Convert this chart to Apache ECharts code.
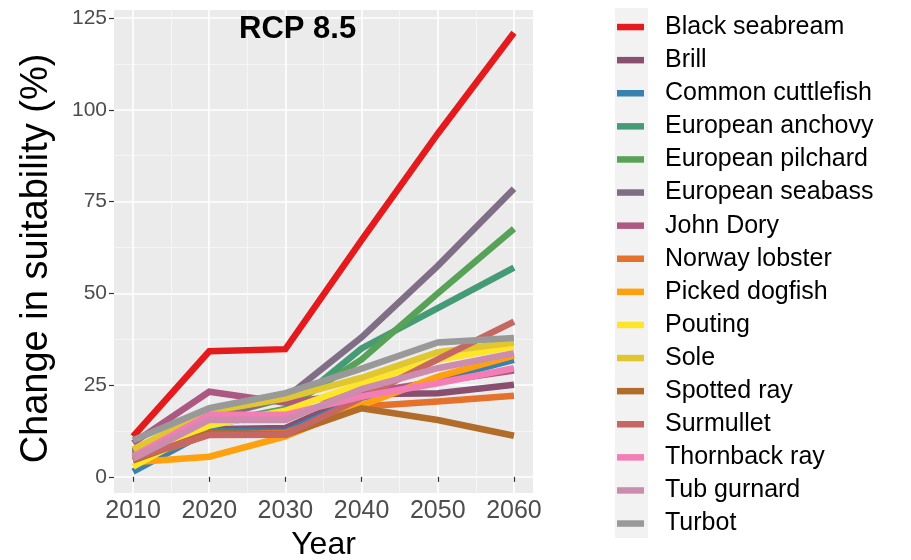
<!DOCTYPE html>
<html>
<head>
<meta charset="utf-8">
<script src="https://cdn.jsdelivr.net/npm/echarts@6/dist/echarts.min.js"></script>
<style>
  html, body { margin: 0; padding: 0; background: #ffffff; }
  #chart { width: 911px; height: 560px; }
</style>
</head>
<body>
<div id="chart"></div>
<script>
// Projected change in habitat suitability per species, RCP 8.5 scenario
const years = [2010, 2020, 2030, 2040, 2050, 2060];
const yTicks = [0, 25, 50, 75, 100, 125];
const yMinorTicks = [12.5, 37.5, 62.5, 87.5, 112.5];
const xMinorTicks = [2015, 2025, 2035, 2045, 2055];

const species = [
  'Black seabream', 'Brill', 'Common cuttlefish', 'European anchovy',
  'European pilchard', 'European seabass', 'John Dory', 'Norway lobster',
  'Picked dogfish', 'Pouting', 'Sole', 'Spotted ray', 'Surmullet',
  'Thornback ray', 'Tub gurnard', 'Turbot'
];

const blackSeabream    = [11.0, 34.2, 34.8, 64.5, 93.5, 121.0];
const brill            = [6.5, 13.0, 13.3, 22.5, 22.8, 25.1];
const commonCuttlefish = [1.4, 12.5, 12.3, 21.5, 26.5, 31.9];
const europeanAnchovy  = [7.0, 14.0, 18.0, 35.0, 46.0, 57.0];
const europeanPilchard = [6.0, 14.5, 18.5, 32.0, 50.0, 67.6];
const europeanSeabass  = [7.0, 16.0, 21.5, 38.0, 57.5, 78.5];
const johnDory         = [9.2, 23.2, 20.2, 22.8, 26.0, 29.0];
const norwayLobster    = [4.5, 11.5, 12.0, 19.2, 20.5, 22.1];
const pickedDogfish    = [4.0, 5.5, 11.0, 19.5, 27.3, 33.0];
const pouting          = [2.8, 14.0, 18.0, 25.5, 31.9, 35.5];
const sole             = [7.5, 17.8, 21.4, 27.0, 34.0, 36.6];
const spottedRay       = [4.5, 12.0, 11.5, 18.7, 15.5, 11.2];
const surmullet        = [5.0, 11.4, 11.5, 21.5, 32.0, 42.3];
const thornbackRay     = [5.5, 16.9, 16.9, 21.9, 25.5, 29.6];
const tubGurnard       = [5.0, 15.5, 15.5, 23.9, 29.6, 33.7];
const turbot           = [10.0, 18.7, 22.8, 29.5, 36.6, 37.8];

const values = [
  blackSeabream, brill, commonCuttlefish, europeanAnchovy, europeanPilchard,
  europeanSeabass, johnDory, norwayLobster, pickedDogfish, pouting, sole,
  spottedRay, surmullet, thornbackRay, tubGurnard, turbot
];

const palette = [
  '#E41A1C', '#884F6F', '#3881B1', '#449B76', '#57A256', '#7F6E85',
  '#AD5882', '#E4722C', '#FFA10E', '#FFE529', '#E1C72F', '#B26C29',
  '#C66764', '#F27EB5', '#CB8CAD', '#999999'
];

const font = '"Liberation Sans", Arial, sans-serif';
const chart = echarts.init(document.getElementById('chart'), null, { renderer: 'canvas' });

const series = species.map((name, i) => ({
  name: name,
  type: 'line',
  xAxisIndex: 0,
  yAxisIndex: 0,
  data: years.map((y, j) => [y, values[i][j]]),
  showSymbol: false,
  symbol: 'none',
  lineStyle: { width: 6.5, color: palette[i], cap: 'butt', join: 'miter' },
  itemStyle: { color: palette[i] },
  emphasis: { disabled: true },
  silent: true,
  animation: false
}));

const gridRect = { left: 114, right: 378, top: 10, bottom: 67 };
const xRange = { min: 2007.5, max: 2062.5 };
const yRange = { min: -4.4, max: 127.2 };

chart.setOption({
  backgroundColor: '#ffffff',
  animation: false,
  title: {
    text: 'RCP 8.5',
    left: 234,
    top: 9,
    textStyle: { fontFamily: font, fontSize: 31, fontWeight: 'bold', color: '#000000' }
  },
  grid: [Object.assign({
    show: true, backgroundColor: '#EBEBEB', borderWidth: 0,
    containLabel: false, outerBoundsMode: 'none'
  }, gridRect)],
  xAxis: [
    {
      type: 'value', gridIndex: 0, min: xRange.min, max: xRange.max,
      name: 'Year', nameLocation: 'middle', nameGap: 28,
      nameTextStyle: { fontFamily: font, fontSize: 32, color: '#000000' },
      axisLine: { show: false },
      axisTick: { show: true, customValues: years, length: 5, lineStyle: { color: '#333333', width: 1.2 } },
      axisLabel: {
        customValues: years, fontFamily: font, fontSize: 25, color: '#4D4D4D', margin: 6,
        formatter: v => String(v)
      },
      splitLine: { show: true, lineStyle: { color: '#FFFFFF', width: 1.6 } }
    },
    {
      type: 'value', gridIndex: 0, min: xRange.min, max: xRange.max, position: 'top',
      axisLine: { show: false },
      axisTick: { show: false, customValues: xMinorTicks },
      axisLabel: { show: false, customValues: xMinorTicks },
      splitLine: { show: true, lineStyle: { color: '#F7F7F7', width: 0.8 } }
    }
  ],
  yAxis: [
    {
      type: 'value', gridIndex: 0, min: yRange.min, max: yRange.max,
      name: 'Change in suitability (%)', nameLocation: 'middle', nameGap: 58,
      nameTextStyle: { fontFamily: font, fontSize: 38, color: '#000000', padding: [0, 14, 0, 0] },
      axisLine: { show: false },
      axisTick: { show: true, customValues: yTicks, length: 5, lineStyle: { color: '#333333', width: 1.2 } },
      axisLabel: { customValues: yTicks, fontFamily: font, fontSize: 21, color: '#4D4D4D', margin: 7 },
      splitLine: { show: true, lineStyle: { color: '#FFFFFF', width: 1.6 } }
    },
    {
      type: 'value', gridIndex: 0, min: yRange.min, max: yRange.max, position: 'right',
      axisLine: { show: false },
      axisTick: { show: false, customValues: yMinorTicks },
      axisLabel: { show: false, customValues: yMinorTicks },
      splitLine: { show: true, lineStyle: { color: '#F7F7F7', width: 0.8 } }
    }
  ],
  legend: {
    orient: 'vertical',
    left: 612,
    top: 9,
    icon: 'rect',
    itemWidth: 27,
    itemHeight: 6.5,
    itemGap: 7,
    selectedMode: false,
    data: species,
    textStyle: { fontFamily: font, fontSize: 25, color: '#000000', lineHeight: 26.1, padding: [0, 0, 0, 16] }
  },
  graphic: [
    { type: 'rect', left: 615, top: 8, z: -10, shape: { width: 33, height: 530 }, style: { fill: '#F2F2F2' } }
  ],
  series: series
});
</script>
</body>
</html>
